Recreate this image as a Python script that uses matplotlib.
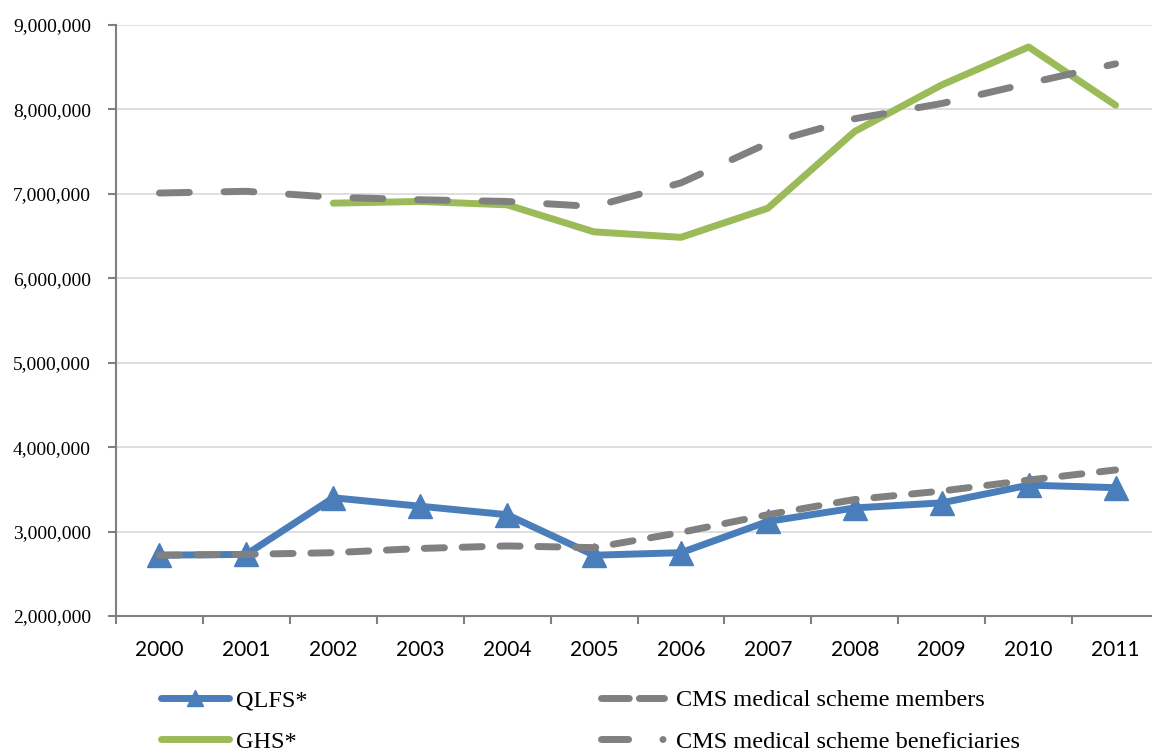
import numpy as np
import matplotlib
matplotlib.use('Agg')
import matplotlib.pyplot as plt
from matplotlib.lines import Line2D
from matplotlib.ticker import FuncFormatter, MultipleLocator


years = ['2000', '2001', '2002', '2003', '2004', '2005',
         '2006', '2007', '2008', '2009', '2010', '2011']

qlfs = [2720000, 2730000, 3400000, 3300000, 3200000, 2720000,
        2750000, 3120000, 3280000, 3340000, 3550000, 3520000]
ghs = [np.nan, np.nan, 6890000, 6910000, 6870000, 6550000,
       6485000, 6830000, 7740000, 8290000, 8740000, 8050000]
cms_members = [2720000, 2730000, 2750000, 2800000, 2830000, 2810000,
               2990000, 3200000, 3380000, 3480000, 3610000, 3730000]
cms_beneficiaries = [7010000, 7030000, 6960000, 6930000, 6910000, 6850000,
                     7130000, 7600000, 7890000, 8070000, 8310000, 8540000]

blue = '#4A7EBB'
green = '#9BBB59'
grey = '#808080'

fig = plt.figure(figsize=(11.52, 7.56), dpi=100)
ax = fig.add_axes([116 / 1152, 140 / 756, (1159 - 116) / 1152, 591 / 756])

x = np.arange(len(years))

ax.plot(x, cms_beneficiaries, color=grey, lw=5, dashes=(4.3, 5.0),
        dash_capstyle='round', solid_capstyle='round', zorder=3)
ax.plot(x, ghs, color=green, lw=5, solid_capstyle='round', zorder=2)
ax.plot(x, qlfs, color=blue, lw=5, marker='^', markersize=17,
        solid_joinstyle='miter', zorder=2)
ax.plot(x, cms_members, color=grey, lw=5, dashes=(2.9, 2.55),
        dash_capstyle='round', zorder=3)

ax.set_xlim(-0.5, len(years) - 0.5)
ax.set_ylim(2000000, 9000000)

# y axis: every million, comma separated
ax.yaxis.set_major_locator(MultipleLocator(1000000))
ax.yaxis.set_major_formatter(FuncFormatter(lambda v, p: f'{int(v):,}'))
ax.grid(axis='y', color='#D9D9D9', lw=1.2)
ax.set_axisbelow(True)

# categories labelled in the middle, ticks on the boundaries
ax.set_xticks(x)
ax.set_xticklabels(years)
ax.set_xticks(np.arange(-0.5, len(years)), minor=True)
ax.tick_params(axis='x', which='major', length=0, pad=17.5)
ax.tick_params(axis='x', which='minor', length=6, width=1.5, color=grey, direction='out')
ax.tick_params(axis='y', length=6, width=1.5, color=grey, direction='out', pad=12)

for lab in ax.get_xticklabels():
    lab.set_fontfamily('Lato')
    lab.set_fontsize(15)
for lab in ax.get_yticklabels():
    lab.set_fontfamily('Liberation Serif')
    lab.set_fontsize(14)

for side in ['top', 'right']:
    ax.spines[side].set_visible(False)
for side in ['left', 'bottom']:
    ax.spines[side].set_color(grey)
    ax.spines[side].set_linewidth(1.5)

# legend, two columns under the plot
h_qlfs = Line2D([], [], color=blue, lw=5, marker='^', markersize=12, solid_capstyle='round')
h_ghs = Line2D([], [], color=green, lw=5, solid_capstyle='round')
h_mem = Line2D([], [], color=grey, lw=5, dashes=(4.0, 1.45), dash_capstyle='round')
h_ben = Line2D([], [], color=grey, lw=5, dashes=(3.9, 4.95, 0.01, 20), dash_capstyle='round')

legend_font = {'family': 'Liberation Serif', 'size': 17.5}
leg1 = fig.legend([h_qlfs, h_ghs], ['QLFS*', 'GHS*'], loc='center left',
                  bbox_to_anchor=(160.5 / 1152, 1 - 721 / 756), frameon=False,
                  prop=legend_font, handlelength=2.8, handletextpad=0.3,
                  labelspacing=0.82, borderpad=0, borderaxespad=0)
leg2 = fig.legend([h_mem, h_ben], ['CMS medical scheme members', 'CMS medical scheme beneficiaries'],
                  loc='center left', bbox_to_anchor=(600.5 / 1152, 1 - 721 / 756), frameon=False,
                  prop=legend_font, handlelength=2.6, handletextpad=0.5,
                  labelspacing=0.82, borderpad=0, borderaxespad=0)

fig.savefig('out.png', dpi=100)
